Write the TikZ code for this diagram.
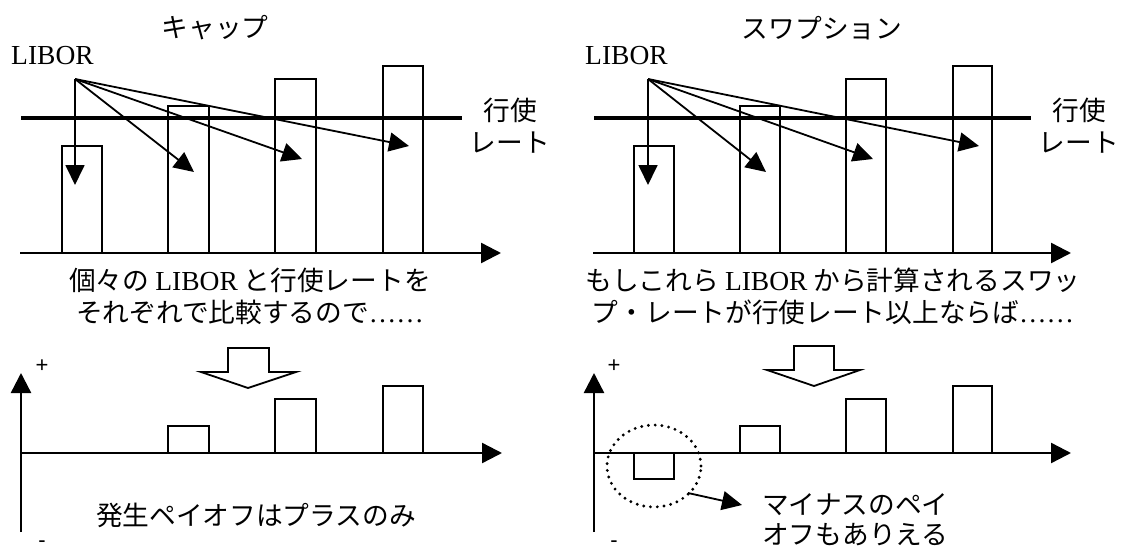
\documentclass[tikz,border=0pt]{standalone}
\usepackage{fontspec}
\setmainfont{Liberation Serif}
\newfontfamily\jp{Noto Sans CJK JP}
\newfontfamily\sansf{Liberation Sans}
\usetikzlibrary{arrows.meta,shapes.geometric}
\newcommand{\latinpart}[1]{{\rmfamily\fontsize{27.5}{32}\selectfont #1}}
\tikzset{
  strike/.style={line width=3.8pt},
  axisline/.style={line width=2.4pt,-{Triangle[length=20pt,width=20pt]}},
  bar/.style={draw,line width=2.2pt},
  ptr/.style={line width=1.8pt,-{Triangle[length=20pt,width=19pt]}},
  jtxt/.style={font=\jp\fontsize{26.7}{32}\selectfont,inner sep=0pt},
  ltxt/.style={font=\rmfamily\fontsize{27.5}{32}\selectfont,inner sep=0pt},
  sign/.style={font=\sansf\fontsize{22}{22}\selectfont,inner sep=0pt},
  hollow/.style={line width=1.8pt,line join=miter},
  dotring/.style={line width=3.2pt,line cap=round,dash pattern=on 0pt off 6.8pt}
}
\begin{document}
\begin{tikzpicture}[x=1pt,y=-1pt]
\useasboundingbox (0,0) rectangle (1125,551);
% ================= LEFT: cap =================
\node[jtxt] (capT) at (215,28) {キャップ};
\node[ltxt,anchor=base west] (libL) at (11,65) {LIBOR};
\node[jtxt,align=center] (strikeL) at (510,126) {行使\\レート};
% bars
\draw[bar] (62,253) rectangle (102,146);
\draw[bar] (168,253) rectangle (209,106);
\draw[bar] (275,253) rectangle (316,79);
\draw[bar] (383,253) rectangle (423,66);
% strike & axis
\coordinate (sL1) at (21,118); \coordinate (sL2) at (462,118);
\draw[strike] (sL1) -- (sL2);
\coordinate (aL0) at (20,253); \coordinate (aL1) at (501,253);
\draw[axisline] (aL0) -- (aL1);
% arrows
\coordinate (oL) at (75,79);
\coordinate (tL1) at (75,185);
\coordinate (tL2) at (194,172);
\coordinate (tL3) at (302,159);
\coordinate (tL4) at (409,146);
\draw[ptr] (oL) -- (tL1);
\draw[ptr] (oL) -- (tL2);
\draw[ptr] (oL) -- (tL3);
\draw[ptr] (oL) -- (tL4);
% caption
\node[jtxt,align=center] (capL) at (250,296) {個々の \latinpart{LIBOR} と行使レートを\\それぞれで比較するので\latinpart{……}};
% hollow arrow
\draw[hollow] (228,348) -- (228,372) -- (201,372) -- (248,388) -- (296,372) -- (269,372) -- (269,348) -- cycle;
% lower chart
\coordinate (vL0) at (21,532); \coordinate (vL1) at (21,373);
\draw[axisline] (vL0) -- (vL1);
\coordinate (hL0) at (21,453); \coordinate (hL1) at (502,453);
\draw[axisline] (hL0) -- (hL1);
\node[sign] (plusL) at (42,366) {+};
\node[sign] (minusL) at (42,544) {-};
\draw[bar] (168,453) rectangle (209,426);
\draw[bar] (275,453) rectangle (316,399);
\draw[bar] (383,453) rectangle (423,386);
\node[jtxt] (payL) at (256,515) {発生ペイオフはプラスのみ};
% ================= RIGHT: swaption =================
\node[jtxt] (swpT) at (822,28) {スワプション};
\node[ltxt,anchor=base west] (libR) at (585,65) {LIBOR};
\node[jtxt,align=center] (strikeR) at (1079,126) {行使\\レート};
\draw[bar] (634,253) rectangle (674,146);
\draw[bar] (740,253) rectangle (780,106);
\draw[bar] (846,253) rectangle (886,79);
\draw[bar] (953,253) rectangle (992,66);
\coordinate (sR1) at (594,118); \coordinate (sR2) at (1031,118);
\draw[strike] (sR1) -- (sR2);
\coordinate (aR0) at (593,253); \coordinate (aR1) at (1071,253);
\draw[axisline] (aR0) -- (aR1);
\coordinate (oR) at (648,79);
\coordinate (tR1) at (648,185);
\coordinate (tR2) at (766,172);
\coordinate (tR3) at (873,159);
\coordinate (tR4) at (979,146);
\draw[ptr] (oR) -- (tR1);
\draw[ptr] (oR) -- (tR2);
\draw[ptr] (oR) -- (tR3);
\draw[ptr] (oR) -- (tR4);
\node[jtxt,align=center] (capR) at (833,296) {もしこれら \latinpart{LIBOR} から計算されるスワッ\\プ・レートが行使レート以上ならば\latinpart{……}};
\draw[hollow] (794,346) -- (794,370) -- (767,370) -- (814,386) -- (860,370) -- (834,370) -- (834,346) -- cycle;
\coordinate (vR0) at (594,532); \coordinate (vR1) at (594,373);
\draw[axisline] (vR0) -- (vR1);
\coordinate (hR0) at (594,453); \coordinate (hR1) at (1071,453);
\draw[axisline] (hR0) -- (hR1);
\node[sign] (plusR) at (614,366) {+};
\node[sign] (minusR) at (614,544) {-};
\draw[bar] (634,453) rectangle (674,479);
\draw[bar] (740,453) rectangle (780,426);
\draw[bar] (846,453) rectangle (886,399);
\draw[bar] (953,453) rectangle (992,386);
\node[draw,dotring,ellipse,minimum width=94pt,minimum height=82pt,inner sep=0pt] (ring) at (654,466) {};
\coordinate (pS) at (688,493); \coordinate (pT) at (742,505);
\draw[ptr] (pS) -- (pT);
\node[font=\jp\fontsize{26.7}{30}\selectfont,inner sep=0pt,align=left,anchor=west] (minus) at (762,520) {マイナスのペイ\\オフもありえる};
\end{tikzpicture}
\end{document}
